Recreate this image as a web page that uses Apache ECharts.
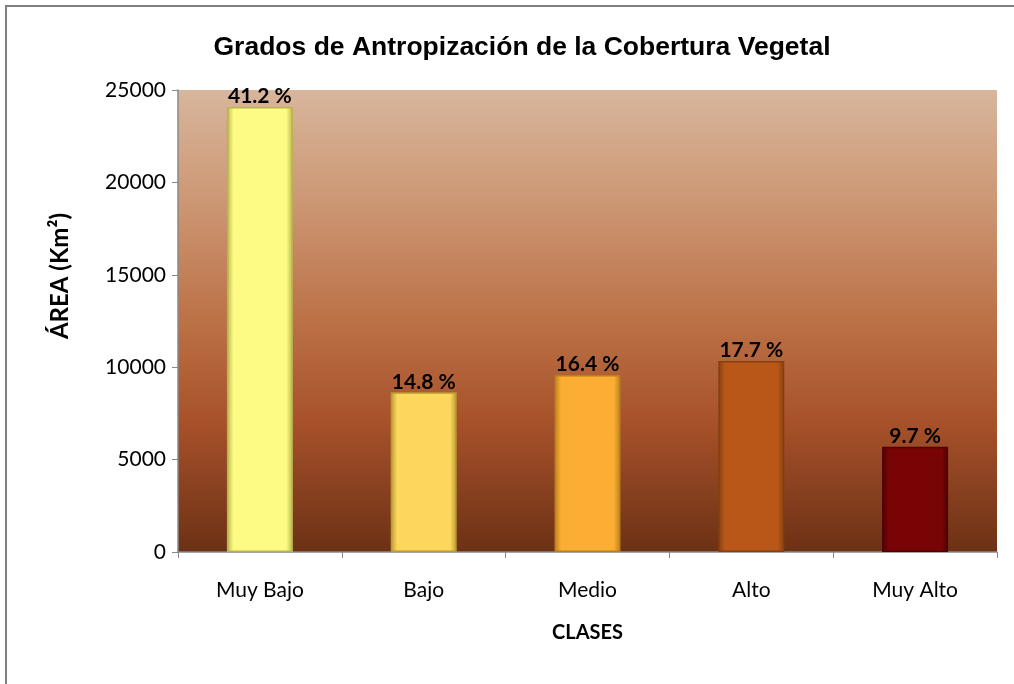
<!DOCTYPE html>
<html>
<head>
<meta charset="utf-8">
<script src="https://cdn.jsdelivr.net/npm/echarts@6/dist/echarts.min.js"></script>
<style>
  html, body { margin: 0; padding: 0; background: #fff; }
  #chart { width: 1014px; height: 684px; }
</style>
</head>
<body>
<div id="chart"></div>
<script>
var clases = ['Muy Bajo', 'Bajo', 'Medio', 'Alto', 'Muy Alto'];
var area = [24080, 8640, 9580, 10330, 5700];
var porcentajes = ['41.2 %', '14.8 %', '16.4 %', '17.7 %', '9.7 %'];
var colores = ['#FDFB84', '#FDD65C', '#FBAE33', '#B95719', '#780405'];
var bordes = ['#B9B44E', '#B99A35', '#B9801E', '#84400F', '#4F0202'];

var chart = echarts.init(document.getElementById('chart'));

function barra(i) {
  return {
    value: area[i],
    itemStyle: {
      color: new echarts.graphic.LinearGradient(0, 0, 1, 0, [
        { offset: 0, color: bordes[i] },
        { offset: 0.1, color: colores[i] },
        { offset: 0.9, color: colores[i] },
        { offset: 1, color: bordes[i] }
      ]),
      borderColor: bordes[i],
      borderWidth: 1.5
    },
    label: { formatter: porcentajes[i] }
  };
}

var option = {
  animation: false,
  title: {
    text: 'Grados de Antropización de la Cobertura Vegetal',
    left: 517,
    textAlign: 'center',
    top: 29,
    textStyle: { fontFamily: 'Liberation Sans', fontSize: 26.5, fontWeight: 'bold', color: '#000' }
  },
  grid: {
    left: 178, right: 17, top: 90, bottom: 132,
    show: true,
    borderWidth: 0,
    backgroundColor: new echarts.graphic.LinearGradient(0, 0, 0, 1, [
      { offset: 0, color: '#D8B69C' },
      { offset: 0.25, color: '#CC9673' },
      { offset: 0.5, color: '#BC7146' },
      { offset: 0.72, color: '#A7512A' },
      { offset: 1, color: '#6C3115' }
    ])
  },
  xAxis: {
    type: 'category',
    data: clases,
    name: 'CLASES',
    nameLocation: 'middle',
    nameGap: 71,
    nameTextStyle: { fontFamily: 'Lato', fontSize: 20, fontWeight: 'bold', color: '#000' },
    axisLine: { lineStyle: { color: '#888', width: 1.5 } },
    axisTick: { show: true, length: 6, lineStyle: { color: '#888' } },
    axisLabel: { fontFamily: 'Lato', fontSize: 21, color: '#000', margin: 28 }
  },
  yAxis: {
    type: 'value',
    min: 0, max: 25000, interval: 5000,
    name: 'ÁREA (Km²)',
    nameLocation: 'middle',
    nameGap: 106,
    nameTextStyle: {
      fontFamily: 'Lato', fontSize: 24, fontWeight: 'bold', color: '#000',
      padding: [0, 0, 0, 90]
    },
    axisLine: { show: true, lineStyle: { color: '#888', width: 1.5 } },
    axisTick: { show: true, length: 6, lineStyle: { color: '#888' } },
    splitLine: { show: false },
    axisLabel: {
      fontFamily: 'Lato', fontSize: 21, color: '#000', margin: 12,
      formatter: function (v) { return String(v); }
    }
  },
  series: [{
    type: 'bar',
    barWidth: 66,
    data: clases.map(function (c, i) { return barra(i); }),
    label: {
      show: true,
      position: 'top',
      distance: 0,
      fontFamily: 'Lato',
      fontSize: 21,
      fontWeight: 'bold',
      color: '#000'
    }
  }],
  graphic: [{
    type: 'polyline',
    shape: { points: [[6, 684], [6, 6], [1014, 6]] },
    style: { stroke: '#808080', lineWidth: 2, fill: null }
  }]
};
chart.setOption(option);
</script>
</body>
</html>
